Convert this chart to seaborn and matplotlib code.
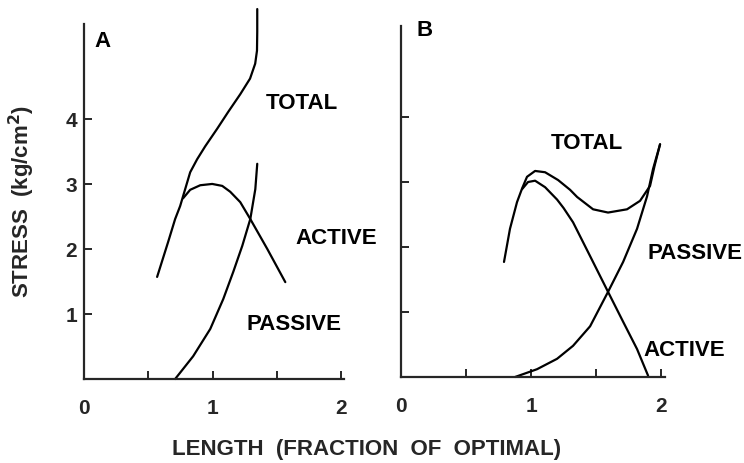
import matplotlib
matplotlib.use("Agg")
import matplotlib.pyplot as plt
import pandas as pd
import seaborn as sns

# Panel A: length (fraction of optimal) vs stress (kg/cm2)
a_total_x = [0.568, 0.654, 0.708, 0.747, 0.786, 0.825, 0.879, 0.942, 1.035, 1.121, 1.214, 1.290, 1.330, 1.344, 1.346, 1.346]
a_total_y = [1.57, 2.11, 2.46, 2.66, 2.92, 3.18, 3.38, 3.58, 3.85, 4.11, 4.38, 4.62, 4.85, 5.05, 5.34, 5.69]
a_active_x = [0.770, 0.825, 0.903, 0.996, 1.074, 1.136, 1.214, 1.292, 1.424, 1.564]
a_active_y = [2.78, 2.91, 2.98, 3.00, 2.97, 2.88, 2.72, 2.46, 2.00, 1.49]
a_passive_x = [0.708, 0.848, 0.981, 1.082, 1.160, 1.230, 1.292, 1.331, 1.346]
a_passive_y = [0.00, 0.35, 0.77, 1.23, 1.65, 2.05, 2.46, 2.92, 3.31]

# Panel B
b_total_x = [0.792, 0.838, 0.892, 0.931, 0.969, 1.031, 1.108, 1.208, 1.300, 1.354, 1.477, 1.592, 1.738, 1.838, 1.915, 1.950, 1.992]
b_total_y = [1.77, 2.28, 2.69, 2.90, 3.08, 3.17, 3.15, 3.03, 2.88, 2.77, 2.58, 2.53, 2.58, 2.71, 2.94, 3.25, 3.58]
b_active_x = [0.931, 0.977, 1.031, 1.108, 1.200, 1.250, 1.323, 1.454, 1.592, 1.708, 1.815, 1.900]
b_active_y = [2.89, 3.00, 3.02, 2.92, 2.73, 2.60, 2.38, 1.86, 1.31, 0.85, 0.43, 0.02]
b_passive_x = [0.877, 1.046, 1.200, 1.323, 1.454, 1.592, 1.708, 1.815, 1.892, 1.938, 1.992]
b_passive_y = [0.00, 0.12, 0.28, 0.48, 0.78, 1.31, 1.77, 2.28, 2.78, 3.20, 3.58]

curve_names = ["TOTAL", "ACTIVE", "PASSIVE"]
x_ticks = [0, 0.5, 1, 1.5, 2]
x_tick_labels = ["0", "", "1", "", "2"]
y_ticks = [1, 2, 3, 4]
y_tick_labels = ["1", "2", "3", "4"]


def make_df(xs, ys):
    rows = []
    for name, x, y in zip(curve_names, xs, ys):
        rows.append(pd.DataFrame({"length": x, "stress": y, "curve": name}))
    return pd.concat(rows, ignore_index=True)


df_a = make_df([a_total_x, a_active_x, a_passive_x], [a_total_y, a_active_y, a_passive_y])
df_b = make_df([b_total_x, b_active_x, b_passive_x], [b_total_y, b_active_y, b_passive_y])

sns.set_theme(style="ticks")
plt.rcParams["font.family"] = ["Liberation Sans", "DejaVu Sans"]
plt.rcParams["font.weight"] = "bold"

fig = plt.figure(figsize=(7.44, 4.64), dpi=100)
ax_a = fig.add_axes([84 / 744, 1 - 380 / 464, 260 / 744, 355 / 464])
ax_b = fig.add_axes([401 / 744, 1 - 378 / 464, 264 / 744, 351 / 464])

for ax, df in [(ax_a, df_a), (ax_b, df_b)]:
    for name in curve_names:
        sub = df[df["curve"] == name]
        sns.lineplot(data=sub, x="length", y="stress", ax=ax, sort=False,
                     estimator=None, color="black", linewidth=1.6, clip_on=False)
    sns.despine(ax=ax)
    ax.spines["left"].set_linewidth(1.6)
    ax.spines["bottom"].set_linewidth(1.6)
    ax.set_xticks(x_ticks)
    ax.tick_params(direction="in", length=6, width=1.4, labelsize=15)
    ax.tick_params(axis="x", pad=14)
    ax.tick_params(axis="y", pad=5)
    ax.set_xlabel("")
    ax.set_ylabel("")

ax_a.set_xlim(0, 2.02)
ax_a.set_ylim(0, 5.46)
ax_a.set_xticklabels(x_tick_labels, fontweight="bold")
ax_a.set_yticks(y_ticks)
ax_a.set_yticklabels(y_tick_labels, fontweight="bold")

ax_b.set_xlim(0, 2.03)
ax_b.set_ylim(0, 5.4)
ax_b.set_xticklabels(x_tick_labels, fontweight="bold")
ax_b.set_yticks(y_ticks)
ax_b.set_yticklabels([])

txt = dict(fontsize=16, fontweight="bold", ha="center", va="center", color="black")
ax_a.text(0.14, 5.2, "A", **txt)
ax_a.text(1.69, 4.25, "TOTAL", **txt)
ax_a.text(1.96, 2.18, "ACTIVE", clip_on=False, **txt)
ax_a.text(1.63, 0.85, "PASSIVE", **txt)

ax_b.text(0.18, 5.35, "B", **txt)
ax_b.text(1.43, 3.60, "TOTAL", **txt)
ax_b.text(2.26, 1.92, "PASSIVE", clip_on=False, **txt)
ax_b.text(2.18, 0.43, "ACTIVE", clip_on=False, **txt)

fig.text(22 / 744, 1 - 202 / 464, "STRESS  (kg/cm$^{\\mathbf{2}}$)", rotation=90,
         fontsize=16, fontweight="bold", ha="center", va="center")
fig.text(367 / 744, 1 - 450 / 464, "LENGTH  (FRACTION  OF  OPTIMAL)",
         fontsize=16, fontweight="bold", ha="center", va="center")

fig.savefig("out.png", dpi=100, facecolor="white")
